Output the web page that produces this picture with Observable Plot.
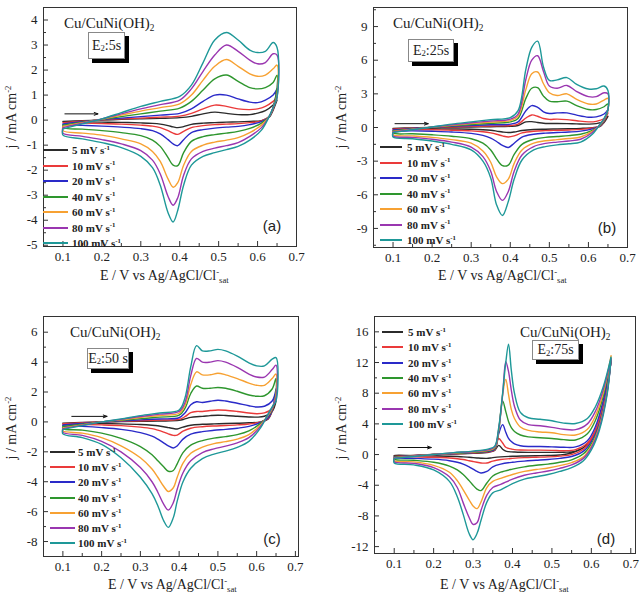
<!DOCTYPE html>
<html><head><meta charset="utf-8">
<script src="https://cdn.jsdelivr.net/npm/d3@7"></script>
<script src="https://cdn.jsdelivr.net/npm/@observablehq/plot@0.6"></script>
<style>
body{margin:0;background:#fff;}
#fig{position:relative;width:643px;height:596px;overflow:hidden;font-family:"Liberation Serif","Times New Roman",serif;color:#222;}
.pw{position:absolute;}
.t{position:absolute;white-space:nowrap;line-height:1;}
.sp{font-size:0.62em;position:relative;top:-0.6em;}
.sb{font-size:0.62em;position:relative;top:0.35em;}
.box{position:absolute;background:#fff;border:1px solid #888;box-shadow:4px 4px 0 #000;display:flex;align-items:center;justify-content:center;font-size:14px;line-height:1;white-space:nowrap;}
.lg{position:absolute;height:2px;}
.lt{position:absolute;white-space:nowrap;line-height:1;font-size:11px;font-weight:bold;transform:translateY(-50%);}
</style></head><body><div id="fig"></div>
<script>
// ---- shared categories / styles
const rates = ["5", "10", "20", "40", "60", "80", "100"];
const colors = ["#2b2b2b", "#ea3a3a", "#2a2ac8", "#2e962e", "#f7a132", "#9a36b0", "#1e9898"];
const xMajor = [0.1, 0.2, 0.3, 0.4, 0.5, 0.6, 0.7];
const xMinor = [0.15, 0.25, 0.35, 0.45, 0.55, 0.65];

// ---- panel (a) E2:5s
const aFwdE = [0.1,0.15,0.2,0.25,0.3,0.35,0.4,0.43,0.46,0.49,0.52,0.55,0.58,0.6,0.62,0.64,0.65];
const aFwdJ = [
  [-0.05,-0.02,0.0,0.03,0.05,0.07,0.1,0.15,0.25,0.32,0.27,0.22,0.22,0.28,0.38,0.6,0.8],
  [-0.1,-0.04,0.01,0.05,0.08,0.12,0.16,0.27,0.45,0.6,0.55,0.45,0.42,0.45,0.55,0.75,0.9],
  [-0.15,-0.06,0.02,0.08,0.14,0.2,0.27,0.45,0.75,1.0,1.0,0.85,0.72,0.7,0.8,1.0,1.25],
  [-0.2,-0.08,0.03,0.14,0.25,0.36,0.48,0.75,1.2,1.65,1.8,1.55,1.3,1.25,1.3,1.5,1.8],
  [-0.25,-0.1,0.04,0.2,0.36,0.5,0.65,1.0,1.6,2.15,2.42,2.15,1.85,1.75,1.8,2.05,2.2],
  [-0.3,-0.12,0.05,0.25,0.45,0.62,0.8,1.25,1.95,2.6,3.0,2.75,2.4,2.25,2.3,2.65,2.6],
  [-0.35,-0.15,0.05,0.3,0.55,0.75,0.95,1.4,2.3,3.2,3.5,3.2,2.8,2.7,2.75,3.1,2.9]
];
const aRevE = [0.65,0.64,0.63,0.61,0.58,0.55,0.52,0.49,0.46,0.43,0.41,0.395,0.383,0.37,0.35,0.33,0.3,0.25,0.2,0.15,0.1];
const aRevJ = [
  [0.8,0.4,0.12,-0.02,-0.05,-0.07,-0.08,-0.1,-0.12,-0.17,-0.26,-0.3,-0.27,-0.22,-0.16,-0.13,-0.11,-0.09,-0.08,-0.07,-0.06],
  [0.9,0.45,0.15,-0.03,-0.1,-0.14,-0.16,-0.18,-0.22,-0.3,-0.45,-0.57,-0.52,-0.42,-0.3,-0.24,-0.2,-0.16,-0.14,-0.12,-0.1],
  [1.25,0.5,0.15,-0.06,-0.18,-0.25,-0.28,-0.32,-0.38,-0.5,-0.78,-1.02,-0.95,-0.78,-0.55,-0.42,-0.34,-0.28,-0.24,-0.21,-0.18],
  [1.3,0.5,0.15,-0.12,-0.33,-0.45,-0.52,-0.58,-0.66,-0.85,-1.3,-1.82,-1.8,-1.5,-1.05,-0.8,-0.62,-0.5,-0.42,-0.36,-0.3],
  [1.0,0.5,0.15,-0.2,-0.5,-0.7,-0.8,-0.88,-1.0,-1.25,-1.8,-2.5,-2.68,-2.35,-1.65,-1.25,-0.95,-0.75,-0.6,-0.52,-0.42],
  [0.95,0.5,0.15,-0.3,-0.65,-0.9,-1.02,-1.12,-1.25,-1.55,-2.2,-3.1,-3.4,-3.05,-2.15,-1.6,-1.22,-0.95,-0.78,-0.65,-0.52],
  [0.9,0.5,0.15,-0.4,-0.8,-1.05,-1.18,-1.3,-1.45,-1.8,-2.6,-3.6,-4.07,-3.7,-2.6,-1.9,-1.45,-1.1,-0.9,-0.75,-0.6]
];
const aYMajor = [-5,-4,-3,-2,-1,0,1,2,3,4];
const aYMinor = [-4.5,-3.5,-2.5,-1.5,-0.5,0.5,1.5,2.5,3.5];
const aArrow = [0.105, 0.19, 0.25];

// ---- panel (b) E2:25s
const bFwdE = [0.1,0.15,0.2,0.25,0.3,0.35,0.4,0.42,0.44,0.455,0.47,0.485,0.5,0.52,0.545,0.57,0.6,0.62,0.64,0.65];
const bFwdJ = [
  [-0.08,-0.03,0.0,0.02,0.05,0.07,0.1,0.18,0.5,0.52,0.45,0.38,0.36,0.36,0.35,0.32,0.3,0.35,0.55,1.0],
  [-0.15,-0.06,0.0,0.05,0.1,0.14,0.18,0.3,0.85,1.12,1.0,0.8,0.72,0.75,0.7,0.6,0.5,0.55,0.8,1.3],
  [-0.22,-0.09,0.01,0.1,0.17,0.24,0.3,0.5,1.5,1.95,1.8,1.4,1.25,1.3,1.3,1.1,0.92,0.95,1.2,1.6],
  [-0.3,-0.12,0.02,0.15,0.27,0.38,0.5,0.8,2.6,3.5,3.55,2.8,2.35,2.3,2.35,1.95,1.6,1.6,1.85,2.1],
  [-0.35,-0.15,0.03,0.2,0.35,0.48,0.62,1.0,3.4,4.8,4.95,3.9,3.1,2.85,3.0,2.5,2.1,2.1,2.45,2.6],
  [-0.4,-0.17,0.04,0.25,0.42,0.58,0.75,1.2,4.3,6.0,6.4,5.0,3.7,3.5,3.75,3.2,2.75,2.75,3.1,3.0],
  [-0.45,-0.2,0.05,0.3,0.5,0.7,0.88,1.5,5.2,7.15,7.7,5.4,4.2,4.25,4.45,3.85,3.43,3.45,3.7,3.3]
];
const bRevE = [0.65,0.64,0.63,0.61,0.58,0.55,0.52,0.49,0.46,0.43,0.41,0.395,0.38,0.365,0.35,0.33,0.3,0.25,0.2,0.15,0.1];
const bRevJ = [
  [1.0,0.45,0.1,-0.02,-0.08,-0.11,-0.13,-0.15,-0.18,-0.27,-0.4,-0.45,-0.4,-0.32,-0.25,-0.2,-0.16,-0.13,-0.11,-0.1,-0.09],
  [1.3,0.55,0.12,-0.05,-0.17,-0.22,-0.25,-0.28,-0.33,-0.48,-0.75,-0.85,-0.75,-0.6,-0.48,-0.38,-0.3,-0.24,-0.2,-0.18,-0.16],
  [1.6,0.6,0.15,-0.12,-0.32,-0.4,-0.45,-0.5,-0.6,-0.85,-1.4,-1.78,-1.6,-1.25,-0.95,-0.7,-0.52,-0.4,-0.34,-0.3,-0.27],
  [1.6,0.65,0.2,-0.25,-0.6,-0.72,-0.8,-0.88,-1.05,-1.5,-2.4,-3.35,-3.4,-2.8,-2.0,-1.4,-1.0,-0.78,-0.65,-0.56,-0.5],
  [1.6,0.7,0.25,-0.35,-0.85,-0.98,-1.08,-1.18,-1.4,-2.0,-3.2,-4.6,-5.0,-4.4,-3.1,-2.1,-1.4,-1.08,-0.88,-0.75,-0.65],
  [1.6,0.75,0.3,-0.45,-1.05,-1.2,-1.3,-1.42,-1.7,-2.45,-3.9,-5.7,-6.5,-5.7,-3.9,-2.6,-1.75,-1.3,-1.05,-0.88,-0.75],
  [1.6,0.8,0.3,-0.6,-1.3,-1.45,-1.55,-1.7,-2.0,-2.9,-4.6,-6.6,-7.85,-6.9,-4.5,-3.0,-2.0,-1.5,-1.2,-1.0,-0.85]
];
const bYMajor = [-9,-6,-3,0,3,6,9];
const bYMinor = [-10.5,-7.5,-4.5,-1.5,1.5,4.5,7.5,10.5];
const bArrow = [0.105, 0.19, 0.34];

// ---- panel (c) E2:50 s
const cFwdE = [0.1,0.15,0.2,0.25,0.3,0.35,0.4,0.415,0.43,0.445,0.46,0.48,0.5,0.52,0.55,0.58,0.6,0.62,0.64,0.65];
const cFwdJ = [
  [-0.08,-0.03,0.0,0.02,0.04,0.06,0.1,0.2,0.3,0.35,0.37,0.42,0.45,0.43,0.38,0.33,0.32,0.38,0.7,1.4],
  [-0.12,-0.06,0.0,0.04,0.08,0.12,0.17,0.35,0.62,0.7,0.7,0.76,0.8,0.78,0.7,0.6,0.55,0.6,0.9,1.7],
  [-0.2,-0.1,0.0,0.07,0.14,0.2,0.28,0.6,1.15,1.35,1.3,1.38,1.45,1.4,1.25,1.08,1.0,1.05,1.4,2.2],
  [-0.3,-0.15,0.0,0.1,0.22,0.32,0.45,0.9,1.9,2.4,2.25,2.25,2.3,2.25,2.05,1.8,1.72,1.75,2.2,2.9],
  [-0.4,-0.2,0.0,0.14,0.3,0.43,0.58,1.1,2.5,3.35,3.15,3.15,3.25,3.15,2.9,2.6,2.45,2.45,2.9,3.2],
  [-0.45,-0.22,0.0,0.17,0.36,0.52,0.7,1.3,3.1,4.25,4.0,4.0,4.1,4.0,3.65,3.2,3.0,3.0,3.5,3.8],
  [-0.5,-0.25,0.0,0.2,0.42,0.6,0.8,1.6,3.7,5.1,4.75,4.75,4.85,4.75,4.4,3.95,3.75,3.75,4.2,4.3]
];
const cRevE = [0.65,0.64,0.63,0.61,0.58,0.55,0.52,0.49,0.46,0.43,0.41,0.395,0.385,0.372,0.36,0.345,0.33,0.3,0.25,0.2,0.15,0.1];
const cRevJ = [
  [1.4,0.7,0.2,0.0,-0.06,-0.09,-0.11,-0.13,-0.16,-0.22,-0.35,-0.47,-0.44,-0.38,-0.32,-0.26,-0.22,-0.17,-0.13,-0.11,-0.1,-0.09],
  [1.7,0.75,0.25,0.0,-0.14,-0.2,-0.24,-0.27,-0.32,-0.42,-0.62,-0.88,-0.9,-0.8,-0.68,-0.55,-0.45,-0.35,-0.25,-0.2,-0.17,-0.15],
  [2.2,0.8,0.3,-0.03,-0.3,-0.42,-0.5,-0.56,-0.65,-0.82,-1.15,-1.6,-1.74,-1.6,-1.4,-1.15,-0.95,-0.72,-0.5,-0.38,-0.3,-0.25],
  [2.0,0.85,0.4,-0.1,-0.6,-0.85,-0.98,-1.08,-1.25,-1.55,-2.05,-2.8,-3.25,-3.3,-3.0,-2.6,-2.2,-1.65,-1.1,-0.75,-0.55,-0.45],
  [1.8,0.9,0.45,-0.2,-0.85,-1.15,-1.32,-1.45,-1.68,-2.1,-2.75,-3.7,-4.4,-4.65,-4.3,-3.7,-3.15,-2.4,-1.6,-1.05,-0.75,-0.6],
  [1.6,0.95,0.5,-0.3,-1.05,-1.4,-1.62,-1.8,-2.05,-2.6,-3.4,-4.5,-5.4,-5.9,-5.5,-4.7,-4.0,-3.05,-2.0,-1.3,-0.9,-0.7],
  [1.4,1.0,0.55,-0.4,-1.3,-1.7,-1.95,-2.15,-2.45,-3.1,-4.0,-5.3,-6.4,-7.05,-6.6,-5.6,-4.8,-3.7,-2.4,-1.5,-1.05,-0.8]
];
const cYMajor = [-8,-6,-4,-2,0,2,4,6];
const cYMinor = [-7,-5,-3,-1,1,3,5];
const cArrow = [0.123, 0.214, 0.37];

// ---- panel (d) E2:75s
const dFwdE = [0.1,0.15,0.2,0.25,0.3,0.34,0.355,0.365,0.375,0.383,0.39,0.397,0.405,0.42,0.44,0.47,0.5,0.53,0.56,0.59,0.61,0.63,0.65];
const dFwdJ = [
  [-0.2,-0.1,0.0,0.08,0.15,0.3,0.55,1.2,0.7,0.45,0.38,0.35,0.33,0.3,0.28,0.28,0.28,0.3,0.45,1.3,3.0,6.4,12.2],
  [-0.25,-0.12,0.0,0.1,0.2,0.36,0.6,2.1,1.5,0.95,0.8,0.72,0.65,0.6,0.58,0.58,0.55,0.5,0.65,1.5,3.2,6.6,12.2],
  [-0.3,-0.14,0.0,0.12,0.25,0.42,0.7,2.7,3.9,2.9,2.1,1.7,1.4,1.15,1.05,1.05,1.0,0.95,1.0,1.8,3.6,7.0,12.3],
  [-0.35,-0.17,0.0,0.16,0.3,0.5,0.8,3.0,7.0,5.6,4.3,3.5,3.0,2.55,2.3,2.2,2.1,1.95,1.9,2.7,4.4,7.6,12.5],
  [-0.4,-0.2,0.0,0.2,0.35,0.58,0.9,3.2,7.8,9.8,7.8,5.9,4.7,3.6,3.15,2.95,2.85,2.6,2.55,3.3,5.0,8.0,12.9],
  [-0.45,-0.22,0.0,0.22,0.4,0.65,1.0,3.3,7.8,12.1,10.8,8.4,6.3,4.5,3.9,3.75,3.55,3.3,3.25,4.0,5.6,8.4,12.5],
  [-0.5,-0.25,0.0,0.25,0.45,0.75,1.1,3.5,8.0,12.0,14.4,11.0,8.0,5.5,4.8,4.6,4.4,4.1,4.05,4.7,6.2,8.8,12.7]
];
const dRevE = [0.65,0.64,0.62,0.6,0.58,0.55,0.52,0.49,0.46,0.43,0.4,0.37,0.35,0.335,0.32,0.31,0.3,0.29,0.275,0.26,0.24,0.2,0.15,0.1];
const dRevJ = [
  [12.2,8.8,4.4,2.0,0.9,0.2,-0.05,-0.12,-0.15,-0.18,-0.22,-0.3,-0.4,-0.5,-0.48,-0.44,-0.4,-0.36,-0.3,-0.26,-0.22,-0.18,-0.15,-0.13],
  [12.2,8.6,4.2,1.9,0.7,0.0,-0.2,-0.3,-0.35,-0.4,-0.5,-0.65,-0.85,-1.1,-1.1,-1.0,-0.9,-0.8,-0.65,-0.55,-0.45,-0.35,-0.3,-0.25],
  [12.3,8.4,4.0,1.7,0.45,-0.25,-0.5,-0.65,-0.75,-0.85,-1.0,-1.25,-1.6,-2.2,-2.4,-2.2,-1.9,-1.6,-1.25,-1.0,-0.8,-0.6,-0.5,-0.4],
  [12.5,8.2,3.8,1.4,0.1,-0.7,-1.0,-1.25,-1.4,-1.6,-1.9,-2.3,-2.8,-3.7,-4.7,-4.5,-4.0,-3.4,-2.6,-2.0,-1.5,-1.0,-0.75,-0.6],
  [12.9,8.2,3.6,1.1,-0.3,-1.05,-1.45,-1.75,-1.95,-2.2,-2.6,-3.1,-3.5,-4.3,-6.2,-7.05,-6.7,-5.9,-4.6,-3.4,-2.3,-1.4,-0.95,-0.8],
  [12.5,8.0,3.4,0.9,-0.5,-1.35,-1.8,-2.15,-2.4,-2.7,-3.2,-3.9,-4.3,-5.3,-7.3,-8.9,-9.1,-8.2,-6.3,-4.3,-2.9,-1.7,-1.15,-0.95],
  [12.7,7.8,3.1,0.6,-0.8,-1.7,-2.2,-2.6,-2.9,-3.2,-3.8,-4.6,-5.0,-6.2,-8.6,-10.3,-11.1,-10.3,-7.8,-5.5,-3.5,-2.0,-1.35,-1.1]
];
const dYMajor = [-12,-8,-4,0,4,8,12,16];
const dYMinor = [-10,-6,-2,2,6,10,14];
const dArrow = [0.11, 0.194, 0.92];

// ---- build
const fig = document.getElementById("fig");

function drawPanel(p) {
  const rows = [];
  rates.forEach((r, i) => {
    p.fE.forEach((e, k) => rows.push({E: e, j: p.fJ[i][k], s: r}));
    p.rE.forEach((e, k) => rows.push({E: e, j: p.rJ[i][k], s: r}));
    rows.push({E: p.fE[0], j: p.fJ[i][0], s: r});
  });
  const arrow = [{x1: p.arrow[0], x2: p.arrow[1], y: p.arrow[2]}];
  const blank = () => "";
  const svg = Plot.plot({
    width: p.w, height: p.h,
    marginLeft: p.m[0], marginRight: p.m[1], marginTop: p.m[2], marginBottom: p.m[3],
    x: {domain: p.xd},
    y: {domain: p.yd},
    color: {domain: rates, range: colors},
    style: {background: "transparent", fontFamily: "'Liberation Serif', 'Times New Roman', serif", fontSize: "13px", color: "#222", overflow: "visible"},
    marks: [
      Plot.line(rows, {x: "E", y: "j", z: "s", stroke: "s", strokeWidth: 1.4, curve: "catmull-rom", clip: true}),
      Plot.arrow(arrow, {x1: "x1", x2: "x2", y1: "y", y2: "y", stroke: "#111", strokeWidth: 1, headLength: 6, headAngle: 40}),
      Plot.axisX({ticks: xMajor, tickSize: 0, tickPadding: 5, tickFormat: d => d.toFixed(1), label: null}),
      Plot.axisX({ticks: xMajor, tickSize: 5, dy: -5, tickFormat: blank, label: null, stroke: "#333"}),
      Plot.axisX({ticks: xMinor, tickSize: 3, dy: -3, tickFormat: blank, label: null, stroke: "#333"}),
      Plot.axisY({ticks: p.yMajor, tickSize: 0, tickPadding: 6, tickFormat: d => String(d), label: null}),
      Plot.axisY({ticks: p.yMajor, tickSize: 5, dx: 5, tickFormat: blank, label: null, stroke: "#333"}),
      Plot.axisY({ticks: p.yMinor, tickSize: 3, dx: 3, tickFormat: blank, label: null, stroke: "#333"}),
      Plot.frame({stroke: "#333", strokeWidth: 1})
    ]
  });
  const wrap = document.createElement("div");
  wrap.className = "pw";
  wrap.style.left = p.left + "px";
  wrap.style.top = p.top + "px";
  wrap.appendChild(svg);
  fig.appendChild(wrap);
}

function txt(html, x, y, css, tr) {
  const d = document.createElement("div");
  d.className = "t";
  d.innerHTML = html;
  d.style.left = x + "px";
  d.style.top = y + "px";
  d.style.cssText += css || "";
  d.style.transform = tr || "translateY(-50%)";
  fig.appendChild(d);
}

function decorate(o) {
  txt("E / V vs Ag/AgCl/Cl<span class='sp'>-</span><span class='sb'>sat</span>", o.xt[0], o.xt[1], "font-size:14px;");
  txt("j / mA cm<span class='sp'>-2</span>", o.yt[0], o.yt[1], "font-size:14px;", "translate(-50%,-50%) rotate(-90deg)");
  txt("Cu/CuNi(OH)<span class='sb'>2</span>", o.cu[0], o.cu[1], "font-size:15px;");
  const b = document.createElement("div");
  b.className = "box";
  b.innerHTML = o.e2;
  b.style.left = o.box[0] + "px"; b.style.top = o.box[1] + "px";
  b.style.width = o.box[2] + "px"; b.style.height = o.box[3] + "px";
  fig.appendChild(b);
  txt(o.letter, o.lp[0], o.lp[1], "font-family:'Liberation Sans',Arial,sans-serif;font-size:15px;", "translate(-50%,-50%)");
  rates.forEach((r, i) => {
    const y = o.lg[3] + i * o.lg[4];
    const l = document.createElement("div");
    l.className = "lg";
    l.style.left = o.lg[0] + "px"; l.style.width = (o.lg[1] - o.lg[0]) + "px";
    l.style.top = (y - 1) + "px"; l.style.background = colors[i];
    fig.appendChild(l);
    const t = document.createElement("div");
    t.className = "lt";
    t.innerHTML = r + " mV s<span class='sp'>-1</span>";
    t.style.left = o.lg[2] + "px"; t.style.top = y + "px";
    fig.appendChild(t);
  });
}

drawPanel({left: 0, top: 0, w: 320, h: 300, m: [43, 24, 7, 54], xd: [0.05, 0.7], yd: [-5.05, 4.5],
  fE: aFwdE, fJ: aFwdJ, rE: aRevE, rJ: aRevJ, yMajor: aYMajor, yMinor: aYMinor, arrow: aArrow});
drawPanel({left: 320, top: 0, w: 323, h: 300, m: [53, 16, 7, 53], xd: [0.05, 0.7], yd: [-10.7, 10.7],
  fE: bFwdE, fJ: bFwdJ, rE: bRevE, rJ: bRevJ, yMajor: bYMajor, yMinor: bYMinor, arrow: bArrow});
drawPanel({left: 0, top: 300, w: 320, h: 296, m: [43, 22, 16, 40], xd: [0.05, 0.708], yd: [-9, 7.05],
  fE: cFwdE, fJ: cFwdJ, rE: cRevE, rJ: cRevJ, yMajor: cYMajor, yMinor: cYMinor, arrow: cArrow});
drawPanel({left: 320, top: 300, w: 323, h: 296, m: [54, 8, 16, 43], xd: [0.05, 0.712], yd: [-12.9, 18],
  fE: dFwdE, fJ: dFwdJ, rE: dRevE, rJ: dRevJ, yMajor: dYMajor, yMinor: dYMinor, arrow: dArrow});

decorate({xt: [100, 276], yt: [12, 117], cu: [64, 23], e2: "E<span class='sb'>2</span>:5s", box: [88, 32, 35, 25], letter: "(a)", lp: [272, 225], lg: [43, 68, 72, 150, 15.5]});
decorate({xt: [438, 276], yt: [342, 117], cu: [393, 23], e2: "E<span class='sb'>2</span>:25s", box: [408, 39, 44, 21], letter: "(b)", lp: [607, 227], lg: [380, 402, 407, 147, 15.5]});
decorate({xt: [108, 585], yt: [12, 428], cu: [70, 332], e2: "E<span class='sb'>2</span>:50 s", box: [87, 348, 40, 19], letter: "(c)", lp: [272, 538], lg: [50, 75, 78, 452, 15.2]});
decorate({xt: [440, 585], yt: [342, 428], cu: [520, 332], e2: "E<span class='sb'>2</span>:75s", box: [532, 340, 45, 18], letter: "(d)", lp: [606, 538], lg: [382, 403, 408, 332, 15.3]});
</script></body></html>
